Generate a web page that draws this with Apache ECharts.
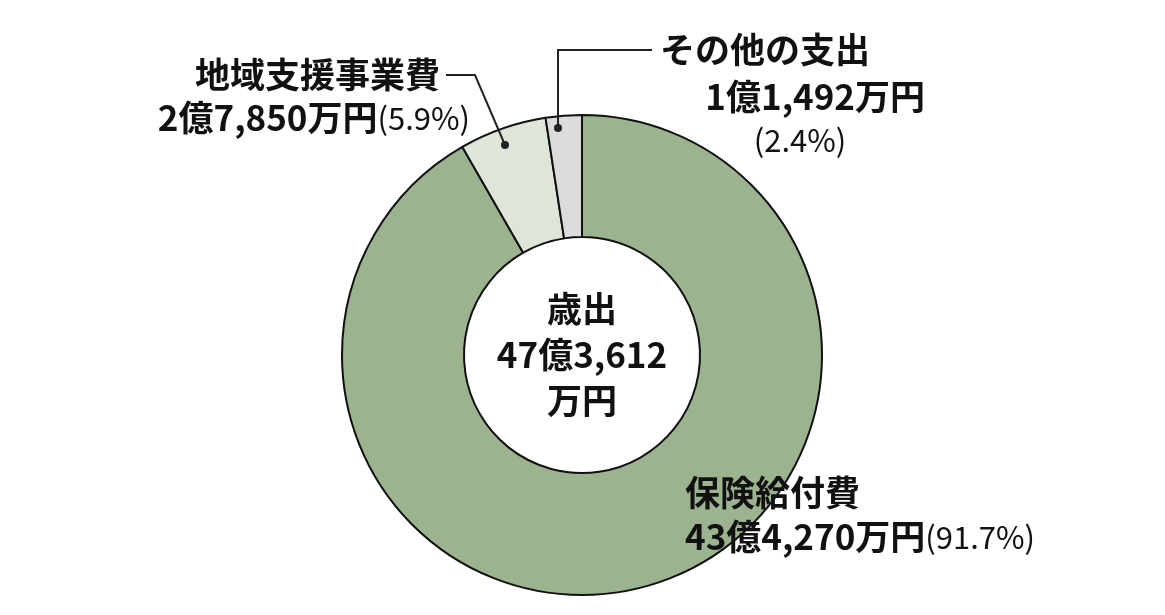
<!DOCTYPE html>
<html>
  <head>
    <meta charset="UTF-8">
    <script src="https://cdn.jsdelivr.net/npm/echarts@6/dist/echarts.min.js"></script>
    <style>
    * { margin: 0; padding: 0; }
    </style>
  </head>
  <body>
    <div id="main" style="width: 1165px;height: 615px;background:#fff"></div>
    <script>
var names = ['保険給付費', '地域支援事業費', 'その他の支出']
var values = [434270, 27850, 11492]
var amounts = ['43億4,270万円', '2億7,850万円', '1億1,492万円']
var shares = ['91.7%', '5.9%', '2.4%']
var colors = ['#9bb38f', '#dde6d8', '#dcdcdc']
var total = '47億3,612'

var font = '"Noto Sans CJK JP", sans-serif'
var big = { fontFamily: font, fontWeight: 'bold', fontSize: 35, fill: '#111' }
var pct = { fontFamily: font, fontWeight: 'normal', fontSize: 31, fill: '#111' }

function txt(x, y, text, align, rich) {
  return {
    type: 'text', x: x, y: y, z: 100,
    style: Object.assign({ text: text, align: align || 'left', verticalAlign: 'middle', rich: rich }, big)
  }
}
var rich = { b: big, p: pct }
var chart = echarts.init(document.getElementById('main'))
chart.setOption({
  animation: false,
  series: [{
    type: 'pie',
    center: [582, 355],
    radius: [118, 240],
    startAngle: 90,
    clockwise: true,
    label: { show: false },
    itemStyle: { borderColor: '#111', borderWidth: 2 },
    data: names.map((n, i) => ({ name: n, value: values[i], itemStyle: { color: colors[i] } }))
  }],
  graphic: [
    { type: 'text', x: 582, y: 355, z: 100,
      style: Object.assign({ text: '歳出\n' + total + '\n万円', align: 'center', verticalAlign: 'middle', lineHeight: 46 }, big) },
    txt(440, 75, names[1], 'right'),
    txt(470, 118, '{b|' + amounts[1] + '}{p|(' + shares[1] + ')}', 'right', rich),
    txt(660, 50, names[2]),
    txt(925, 97, amounts[2], 'right'),
    { type: 'text', x: 800, y: 140, z: 100, style: Object.assign({ text: '(' + shares[2] + ')', align: 'center', verticalAlign: 'middle' }, pct) },
    txt(685, 493, names[0]),
    txt(685, 537, '{b|' + amounts[0] + '}{p|(' + shares[0] + ')}', 'left', rich),
    { type: 'polyline', z: 100, shape: { points: [[446, 75], [475, 75], [505, 145]] }, style: { stroke: '#222', lineWidth: 2, fill: null } },
    { type: 'polyline', z: 100, shape: { points: [[558, 128], [558, 50], [652, 50]] }, style: { stroke: '#222', lineWidth: 2, fill: null } },
    { type: 'circle', z: 100, shape: { cx: 505, cy: 145, r: 4 }, style: { fill: '#222' } },
    { type: 'circle', z: 100, shape: { cx: 558, cy: 128, r: 4 }, style: { fill: '#222' } }
  ]
})
    </script>
  </body>
</html>
